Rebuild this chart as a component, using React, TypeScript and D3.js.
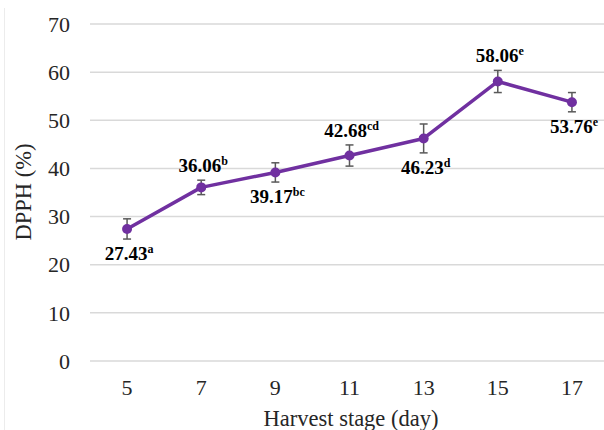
import React, { useEffect, useRef } from "react";
import * as d3 from "d3";

// harvest stage (day) and DPPH scavenging (%)
const days = ["5", "7", "9", "11", "13", "15", "17"];
const dpph = [27.43, 36.06, 39.17, 42.68, 46.23, 58.06, 53.76];
const errors = [2.1, 1.5, 2.0, 2.2, 3.0, 2.3, 2.0];
const letters = ["a", "b", "bc", "cd", "d", "e", "e"];
// where the value label sits relative to the point
const labelSide = ["below", "above", "below", "above", "below", "above", "below"];
const yTicks = [0, 10, 20, 30, 40, 50, 60, 70];

const App = () => {
  const svgRef = useRef<SVGSVGElement | null>(null);

  useEffect(() => {
    const svg = d3.select(svgRef.current);
    svg.selectAll("*").remove();

    const width = 604;
    const height = 430;
    const font = "'Liberation Serif', 'Times New Roman', serif";
    const purple = "#7030a0";

    const x = d3.scaleBand().domain(days).range([90, 609]);
    const y = d3.scaleLinear().domain([0, 70]).range([361, 24]);
    const cx = (d: string) => (x(d) as number) + x.bandwidth() / 2;

    const data = days.map((d, i) => ({
      day: d,
      v: dpph[i],
      e: errors[i],
      letter: letters[i],
      side: labelSide[i],
    }));

    // faint frame edge on the left
    svg
      .append("line")
      .attr("x1", 4.5)
      .attr("x2", 4.5)
      .attr("y1", 8)
      .attr("y2", height)
      .attr("stroke", "#ececec")
      .attr("stroke-width", 1);

    // gridlines
    svg
      .append("g")
      .selectAll("line")
      .data(yTicks)
      .enter()
      .append("line")
      .attr("x1", 90)
      .attr("x2", width)
      .attr("y1", (d) => y(d))
      .attr("y2", (d) => y(d))
      .attr("stroke", "#d9d9d9")
      .attr("stroke-width", 1.5);

    // y tick labels
    svg
      .append("g")
      .selectAll("text")
      .data(yTicks)
      .enter()
      .append("text")
      .attr("x", 70)
      .attr("y", (d) => y(d))
      .attr("dy", "0.35em")
      .attr("text-anchor", "end")
      .style("font-family", font)
      .style("font-size", "22px")
      .attr("fill", "#262626")
      .text((d) => d);

    // x tick labels
    svg
      .append("g")
      .selectAll("text")
      .data(days)
      .enter()
      .append("text")
      .attr("x", (d) => cx(d))
      .attr("y", 395)
      .attr("text-anchor", "middle")
      .style("font-family", font)
      .style("font-size", "22px")
      .attr("fill", "#262626")
      .text((d) => d);

    // axis titles
    svg
      .append("text")
      .attr("x", 351)
      .attr("y", 426)
      .attr("text-anchor", "middle")
      .style("font-family", font)
      .style("font-size", "22.5px")
      .attr("fill", "#262626")
      .text("Harvest stage (day)");

    svg
      .append("text")
      .attr("transform", "translate(31,192) rotate(-90)")
      .attr("text-anchor", "middle")
      .style("font-family", font)
      .style("font-size", "22.5px")
      .attr("fill", "#262626")
      .text("DPPH (%)");

    // line
    const line = d3
      .line<(typeof data)[number]>()
      .x((d) => cx(d.day))
      .y((d) => y(d.v));

    svg
      .append("path")
      .datum(data)
      .attr("d", line)
      .attr("fill", "none")
      .attr("stroke", purple)
      .attr("stroke-width", 3.5)
      .attr("stroke-linejoin", "round");

    // error bars
    const eb = svg.append("g").attr("stroke", "#595959").attr("stroke-width", 1.5);
    data.forEach((d) => {
      const px = cx(d.day);
      const top = y(d.v + d.e);
      const bot = y(d.v - d.e);
      eb.append("line").attr("x1", px).attr("x2", px).attr("y1", top).attr("y2", bot);
      eb.append("line").attr("x1", px - 4).attr("x2", px + 4).attr("y1", top).attr("y2", top);
      eb.append("line").attr("x1", px - 4).attr("x2", px + 4).attr("y1", bot).attr("y2", bot);
    });

    // markers
    svg
      .append("g")
      .selectAll("circle")
      .data(data)
      .enter()
      .append("circle")
      .attr("cx", (d) => cx(d.day))
      .attr("cy", (d) => y(d.v))
      .attr("r", 5)
      .attr("fill", purple);

    // value labels with superscript letters
    const labels = svg
      .append("g")
      .selectAll("text")
      .data(data)
      .enter()
      .append("text")
      .attr("x", (d) => cx(d.day) + 2)
      .attr("y", (d) =>
        d.side === "above" ? y(d.v + d.e) - 8 : y(d.v - d.e) + 21
      )
      .attr("text-anchor", "middle")
      .style("font-family", font)
      .style("font-size", "19px")
      .style("font-weight", "bold")
      .attr("fill", "#000");

    labels.append("tspan").text((d) => d.v.toFixed(2));
    labels
      .append("tspan")
      .attr("dy", -7)
      .style("font-size", "12px")
      .text((d) => d.letter);

    return () => {
      svg.selectAll("*").remove();
    };
  }, []);

  return (
    <div style={{ position: "absolute", left: 0, top: 0, background: "#fff" }}>
      <svg ref={svgRef} width={604} height={430} style={{ display: "block" }}></svg>
    </div>
  );
};

export default App;
